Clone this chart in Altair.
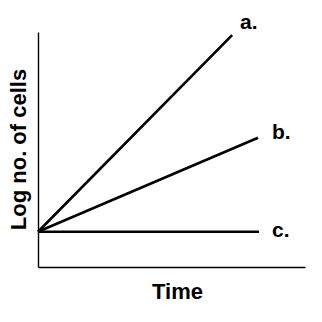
import altair as alt
import pandas as pd

# Data (arbitrary units, 0-100 on each axis)
series = ["a.", "b.", "c."]
start_time = [0, 0, 0]
start_log = [15, 15, 15]
end_time = [72.7, 82.4, 82.8]
end_log = [98.7, 55.0, 15.0]

rows = []
for s, t0, y0, t1, y1 in zip(series, start_time, start_log, end_time, end_log):
    rows.append({"series": s, "time": t0, "logn": y0})
    rows.append({"series": s, "time": t1, "logn": y1})
lines_df = pd.DataFrame(rows)
ends_df = pd.DataFrame({"series": series, "time": end_time, "logn": end_log})

FONT = "Liberation Sans"

x_enc = alt.X(
    "time:Q",
    scale=alt.Scale(domain=[0, 100], nice=False, zero=False),
    axis=alt.Axis(
        title="Time", labels=False, ticks=False, grid=False,
        domainColor="black", domainWidth=1.4,
        titleFont=FONT, titleFontSize=22, titleFontWeight="bold", titleColor="black",
        titleX=139, titleY=31, titleAlign="center", titleBaseline="alphabetic",
    ),
)
y_enc = alt.Y(
    "logn:Q",
    scale=alt.Scale(domain=[0, 100], nice=False, zero=False),
    axis=alt.Axis(
        title="Log no. of cells", labels=False, ticks=False, grid=False,
        domainColor="black", domainWidth=1.4,
        titleFont=FONT, titleFontSize=22, titleFontWeight="bold", titleColor="black",
        titleAngle=270, titleX=-13, titleY=117, titleAlign="center",
        titleBaseline="alphabetic",
    ),
)

lines = alt.Chart(lines_df).mark_line(color="black", strokeWidth=2.6).encode(
    x=x_enc, y=y_enc, detail="series:N"
)

label_offsets = {"a.": (8, -6), "b.": (14, 1), "c.": (13, 5)}
labels = []
for s in series:
    dx, dy = label_offsets[s]
    labels.append(
        alt.Chart(ends_df).transform_filter(alt.datum.series == s).mark_text(
            font=FONT, fontSize=21, fontWeight="bold", color="black",
            align="left", baseline="alphabetic", dx=dx, dy=dy,
        ).encode(x="time:Q", y="logn:Q", text="series:N")
    )

chart = alt.layer(lines, *labels).properties(
    width=267, height=235,
    padding={"left": 38, "top": 32, "right": 17, "bottom": 55},
    autosize="none",
    background="white",
).configure_view(stroke=None)

chart.save("out.html", embed_options={"renderer": "svg", "actions": False})
